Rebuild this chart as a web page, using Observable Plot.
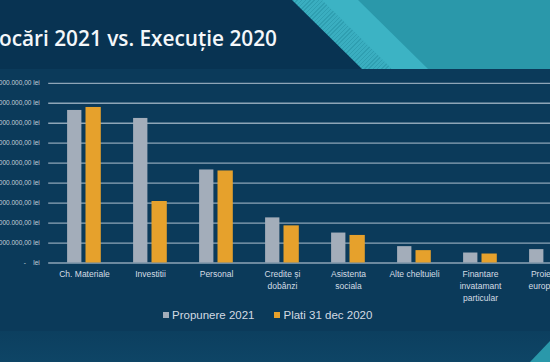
<!DOCTYPE html>
<html>
<head>
<meta charset="utf-8">
<script src="https://cdn.jsdelivr.net/npm/d3@7"></script>
<script src="https://cdn.jsdelivr.net/npm/@observablehq/plot@0.6"></script>
<style>
  html, body { margin: 0; padding: 0; }
  body { width: 550px; height: 362px; overflow: hidden; position: relative; background: #0b3a5a; font-family: "Liberation Sans", Arial, sans-serif; }
  #header { position: absolute; left: 0; top: 0; width: 550px; height: 69px; background: #083352; overflow: hidden; }
  .poly { position: absolute; left: 0; top: 0; width: 550px; height: 69px; }
  #teal { background: #2a98aa; clip-path: polygon(356px 0, 550px 0, 550px 69px, 426px 69px); }
  #stripe { background: #3cb3c4; clip-path: polygon(322px 0, 358px 0, 428px 69px, 392px 69px); }
  #stripe2 { background: repeating-linear-gradient(135deg, #2f9fb1 0 1px, #3aaec0 1px 3px); clip-path: polygon(292px 0, 324px 0, 394px 69px, 362px 69px); }
  #title { position: absolute; left: -1px; top: 22px; font-family: "Open Sans", sans-serif; font-weight: 600; font-size: 22px; line-height: 30px; color: #f4f7fa; white-space: nowrap; transform-origin: left center; }
  #bottom { position: absolute; left: 0; top: 331px; width: 550px; height: 31px; background: linear-gradient(180deg, #0c3f5f, #0e4566); }
  #corner { position: absolute; left: 0; top: 331px; width: 550px; height: 31px; background: #2a98aa; clip-path: polygon(550px 10px, 550px 31px, 530px 31px); }
  #chart { position: absolute; left: 0; top: 69px; }
  #legend { position: absolute; top: 309px; left: 163px; font-size: 11.5px; color: #d3dbe3; white-space: nowrap; display: flex; align-items: center; }
  .sw { display: inline-block; width: 6px; height: 6px; margin-right: 3px; }
  .item { display: inline-flex; align-items: center; }
</style>
</head>
<body>
<div id="header">
  <div class="poly" id="teal"></div>
  <div class="poly" id="stripe2"></div>
  <div class="poly" id="stripe"></div>
  <div id="title">ocări 2021 vs. Execuție 2020</div>
</div>
<div id="bottom"></div>
<div id="corner"></div>
<div id="chart"></div>
<div id="legend"></div>
<script>
const categories = ["Ch. Materiale", "Investitii", "Personal", "Credite și\ndobânzi", "Asistenta\nsociala", "Alte cheltuieli", "Finantare\ninvatamant\nparticular", "Proiecte\neuropene"];
const seriesNames = ["Propunere 2021", "Plati 31 dec 2020"];
const propunere2021 = [76400000, 72400000, 46600000, 22600000, 15000000, 8200000, 5000000, 6700000];
const plati2020 = [77900000, 30800000, 46100000, 18600000, 13800000, 6200000, 4500000, null];
const yTicks = [0, 10000000, 20000000, 30000000, 40000000, 50000000, 60000000, 70000000, 80000000, 90000000];
const colors = ["#a3adba", "#e6a12c"];

const ro = d3.formatLocale({decimal: ",", thousands: ".", grouping: [3], currency: ["", " lei"]});
const fmt = ro.format(",.2f");
const tickFormat = v => v === 0 ? "-    lei" : fmt(v) + " lei";

const dataA = categories.map((c, i) => ({cat: c, value: propunere2021[i]}));
const dataB = categories.map((c, i) => ({cat: c, value: plati2020[i]})).filter(d => d.value != null);

const W = 550, H = 240;
const left = 48.2, band = 66.675;

const chart = Plot.plot({
  width: W,
  height: H,
  marginLeft: left,
  marginRight: 0,
  marginTop: 13.8,
  marginBottom: 46.5,
  style: {background: "transparent", fontFamily: "'Liberation Sans', Arial, sans-serif"},
  x: {type: "band", domain: categories, range: [left, left + band * categories.length], padding: 0},
  y: {domain: [0, 90000000]},
  marks: [
    Plot.ruleY(yTicks, {stroke: "#8ea5b7", strokeWidth: 1.3}),
    Plot.barY(dataA, {x: "cat", y: "value", fill: colors[0], insetLeft: 16.1, insetRight: 35.6}),
    Plot.barY(dataB, {x: "cat", y: "value", fill: colors[1], insetLeft: 34.5, insetRight: 16.2}),
    Plot.axisY({ticks: yTicks, tickFormat, tickSize: 0, tickPadding: 9, fontSize: 6.5, fill: "#c3cfd9", label: null}),
    Plot.axisX({tickSize: 0, tickPadding: 6, fontSize: 8.5, lineHeight: 1.4, fill: "#d5dde5", label: null})
  ]
});
document.getElementById("chart").appendChild(chart);

const legend = document.getElementById("legend");
seriesNames.forEach((n, i) => {
  const it = document.createElement("span");
  it.className = "item";
  it.style.marginRight = i === 0 ? "20px" : "0";
  const sw = document.createElement("span");
  sw.className = "sw";
  sw.style.background = colors[i];
  it.appendChild(sw);
  it.appendChild(document.createTextNode(n));
  legend.appendChild(it);
});

const title = document.getElementById("title");
const tw = title.getBoundingClientRect().width;
title.style.transform = `scaleX(${278 / tw})`;
</script>
</body>
</html>
